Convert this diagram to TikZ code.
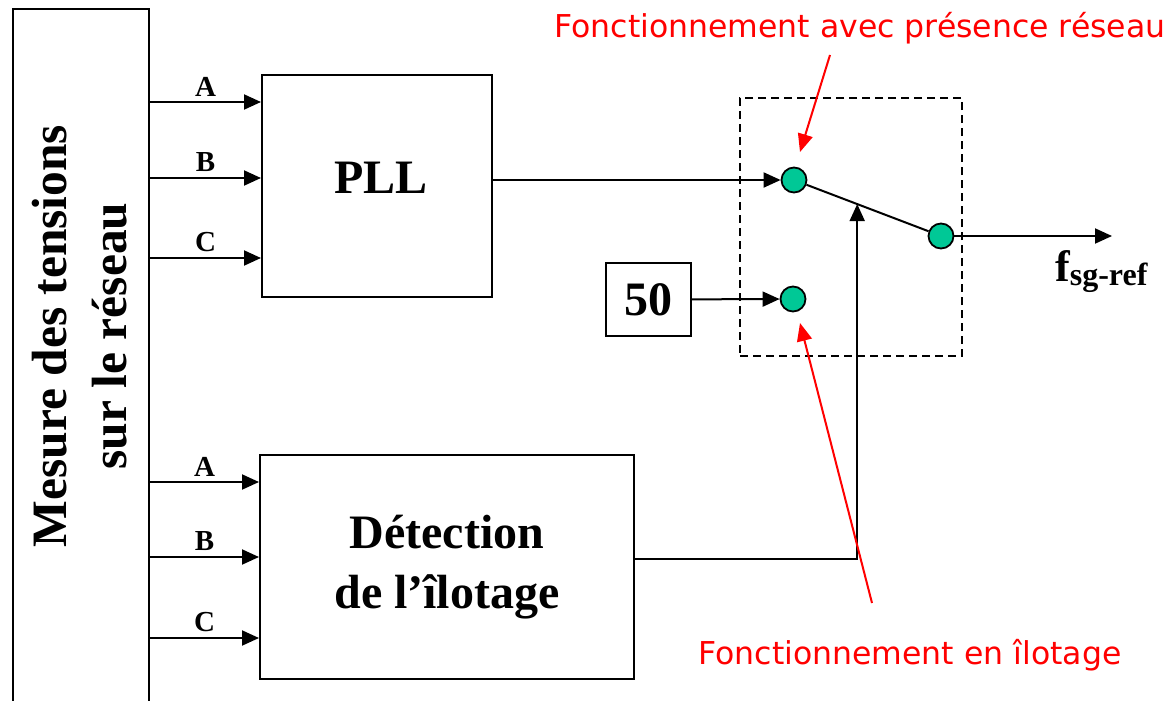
\documentclass[tikz,border=0pt]{standalone}
\usepackage{fontspec}
\setmainfont{Liberation Serif}
\newfontfamily\redfont{DejaVu Sans}
\usetikzlibrary{arrows.meta,calc}
\definecolor{swgreen}{RGB}{0,200,150}
\definecolor{annred}{RGB}{255,0,0}
\tikzset{
 blk/.style={draw, line width=2pt, inner sep=0pt, font=\fontsize{48}{60}\selectfont\bfseries, align=center},
 arr/.style={line width=2pt, -{Triangle[length=17pt,width=15pt]}},
 wire/.style={line width=2pt},
 swdot/.style={circle, draw, line width=1.8pt, fill=swgreen, minimum size=25pt, inner sep=0pt},
 lbl/.style={font=\fontsize{29}{29}\selectfont\bfseries, inner sep=5pt},
 redlbl/.style={text=annred, font=\redfont\fontsize{31.5}{31.5}\selectfont, inner sep=0pt},
 redarr/.style={draw=annred, line width=2pt, -{Triangle[length=18pt,width=15pt]}, annred},
 dashbox/.style={draw, line width=1.6pt, dash pattern=on 8pt off 5pt},
}
\begin{document}
\begin{tikzpicture}[x=1pt,y=-1pt]
\useasboundingbox (0,0) rectangle (1175,701);
\clip (0,0) rectangle (1175,701);
% measurement block (runs off the bottom)
\node[blk, minimum width=136pt, minimum height=760pt, anchor=north west] (meas) at (12,8) {};
\node[rotate=90, font=\fontsize{49.5}{60}\selectfont\bfseries, align=center] (meastxt) at (80,336) {Mesure des tensions\\sur le réseau};
% PLL
\node[blk, minimum width=230pt, minimum height=222pt] (pll) at (377,186) {};
\node[font=\fontsize{48}{60}\selectfont\bfseries] (plltxt) at (381,178) {PLL};
% Detection
\node[blk, minimum width=374pt, minimum height=224pt] (det) at (447,567) {Détection\\de l’îlotage};
% 50
\node[blk, minimum width=85pt, minimum height=73pt] (fifty) at (648.5,299.5) {50};
% switch
\node[dashbox, minimum width=222pt, minimum height=258pt] (swbox) at (851,227) {};
\node[swdot] (s1) at (794,180) {};
\node[swdot] (s2) at (793,299) {};
\node[swdot] (so) at (941,236) {};
\coordinate (lev) at ($(s1)!0.43!(so)$);
% PLL inputs
\path (pll.north west) ++(0,28) coordinate (pA) ++(0,76) coordinate (pB) ++(0,80) coordinate (pC);
\draw[arr] (meas.east |- pA) -- node[lbl, above] {A} (pA);
\draw[arr] (meas.east |- pB) -- node[lbl, above] {B} (pB);
\draw[arr] (meas.east |- pC) -- node[lbl, above] {C} (pC);
% Detection inputs
\path (det.north west) ++(0,28) coordinate (dA) ++(0,75) coordinate (dB) ++(0,81) coordinate (dC);
\draw[arr] (meas.east |- dA) -- node[lbl, above] {A} (dA);
\draw[arr] (meas.east |- dB) -- node[lbl, above] {B} (dB);
\draw[arr] (meas.east |- dC) -- node[lbl, above] {C} (dC);
% signals into the switch
\draw[arr] (pll.east |- s1) -- (s1);
\draw[arr] (fifty) -- (s2);
\draw[wire] (s1) -- (so);
\path (det.north east) ++(0,105) coordinate (dout);
\draw[arr] (dout) -| (lev);
% output
\coordinate (fout) at (1112,236);
\draw[arr] (so) -- (fout);
\node[anchor=base west, inner sep=0pt, font=\bfseries] (flbl) at (1055,281) {{\fontsize{44}{44}\selectfont f}\raisebox{-4pt}{\fontsize{32}{32}\selectfont sg-ref}};
% annotations
\node[redlbl] (ann1) at (860,28) {Fonctionnement avec présence réseau};
\node[redlbl] (ann2) at (910,655) {Fonctionnement en îlotage};
\coordinate (t1) at (830,55);
\coordinate (t2) at (872,603);
\coordinate (h1) at (800,152);
\coordinate (h2) at (800,323);
\draw[redarr] (t1) -- (h1);
\draw[redarr] (t2) -- (h2);
\end{tikzpicture}
\end{document}
